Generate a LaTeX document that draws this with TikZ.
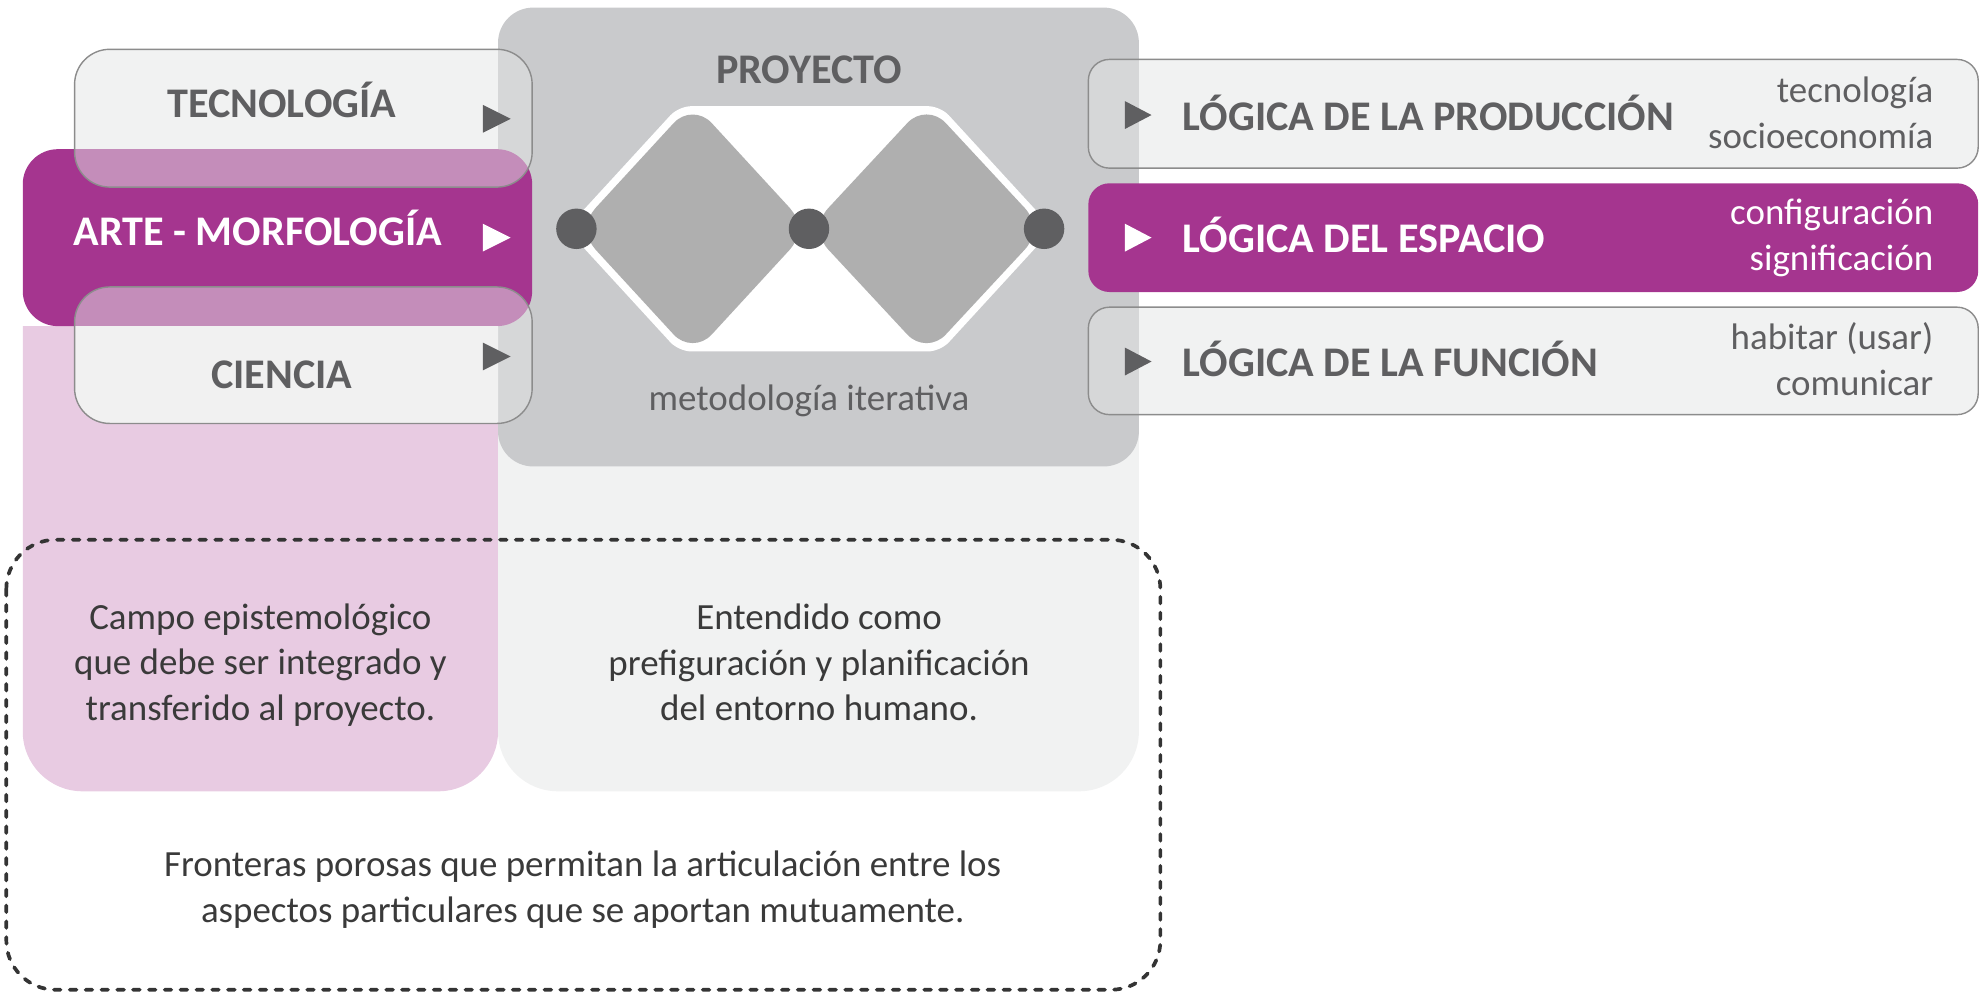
\documentclass[tikz,border=0pt]{standalone}
\usepackage{fontspec}
\setmainfont{Carlito}
\usepackage{tikz}
\usetikzlibrary{positioning}
\usepackage{xcolor}
\definecolor{morado}{HTML}{A5358F}
\definecolor{rosa}{HTML}{E8CBE2}
\definecolor{grisclaro}{HTML}{F1F2F2}
\definecolor{gristapa}{HTML}{E4E5E5}
\definecolor{grismedio}{HTML}{C9CACC}
\definecolor{grisrombo}{HTML}{AFAFAF}
\definecolor{grisoscuro}{HTML}{5F5F61}
\definecolor{borde}{HTML}{8C8C8C}
\definecolor{texto}{HTML}{3A3A3A}
\tikzset{
  titulo/.style={font=\bfseries\fontsize{12}{14}\selectfont, text=grisoscuro, inner sep=0pt},
  subtitulo/.style={font=\fontsize{10.5}{13}\selectfont, text=grisoscuro, inner sep=0pt},
  cuerpo/.style={font=\fontsize{10.5}{13}\selectfont, text=texto, inner sep=0pt, align=center},
  velo/.style={draw=borde, line width=0.4pt, fill=gristapa, fill opacity=0.5},
  punto/.style={circle, fill=grisoscuro, minimum size=11.5pt, inner sep=0pt},
}

\begin{document}
\begin{tikzpicture}[x=0.01264cm, y=-0.01264cm]
  \useasboundingbox (0,0) rectangle (1568,785);

  % columnas de fondo
  \fill[rosa] (18,258) [rounded corners=17pt] -- (18,626) -- (394,626)
    -- (394,258) [sharp corners] -- cycle;
  \fill[grisclaro, rounded corners=17pt] (394,150) rectangle (901,626);
  \fill[grismedio, rounded corners=10pt] (394,6) rectangle (901,369);

  % rombos
  \fill[white, rounded corners=3.5pt] (448,181) -- (537,84) -- (744,84)
    -- (833,181) -- (744,278) -- (537,278) -- cycle;
  \fill[grisrombo, rounded corners=8pt]
    (456,181) -- (548,81) -- (640,181) -- (548,281) -- cycle;
  \fill[grisrombo, rounded corners=8pt]
    (640,181) -- (733,81) -- (826,181) -- (733,281) -- cycle;

  \node[punto] (p1) at (456,181) {};
  \node[punto] (p2) at (640,181) {};
  \node[punto] (p3) at (826,181) {};

  \node[titulo, anchor=base] (proyecto) at (640,66) {PROYECTO};
  \node[subtitulo, anchor=base] (metodo) at (640,325) {metodología iterativa};

  % cajas izquierda
  \fill[morado, rounded corners=10pt] (18,118) rectangle (421,258);
  \begin{scope}
    \clip (0,258) rectangle (394,400);
    \fill[white, rounded corners=10pt] (59,227) rectangle (421,335);
  \end{scope}
  \draw[velo, rounded corners=10pt] (59,39) rectangle (421,148);
  \draw[velo, rounded corners=10pt] (59,227) rectangle (421,335);

  \fill[grisoscuro] (382,83) -- (404,94) -- (382,105) -- cycle;
  \fill[white] (382,177) -- (404,188) -- (382,199) -- cycle;
  \fill[grisoscuro] (382,271) -- (404,282) -- (382,293) -- cycle;

  \node[titulo, anchor=base] (tecno) at (223,93) {TECNOLOGÍA};
  \node[titulo, text=white, anchor=base] (arte) at (204,194) {ARTE - MORFOLOGÍA};
  \node[titulo, anchor=base] (ciencia) at (223,307) {CIENCIA};

  % cajas derecha
  \draw[velo, rounded corners=6pt] (861,47) rectangle (1565,133);
  \fill[morado, rounded corners=6pt] (861,145) rectangle (1565,231);
  \draw[velo, rounded corners=6pt] (861,243) rectangle (1565,328);

  \fill[grisoscuro] (890,80) -- (911,91) -- (890,102) -- cycle;
  \fill[white] (890,177) -- (911,188) -- (890,199) -- cycle;
  \fill[grisoscuro] (890,275) -- (911,286) -- (890,297) -- cycle;

  \node[titulo, anchor=base west] (prod) at (935,103) {LÓGICA DE LA PRODUCCIÓN};
  \node[titulo, text=white, anchor=base west] (espacio) at (935,200) {LÓGICA DEL ESPACIO};
  \node[titulo, anchor=base west] (funcion) at (935,298) {LÓGICA DE LA FUNCIÓN};

  \node[subtitulo, align=right, anchor=east] (prodtxt) at (1530,89)
    {tecnología\\socioeconomía};
  \node[subtitulo, text=white, align=right, anchor=east] (espaciotxt) at (1530,188)
    {configuración\\significación};
  \node[subtitulo, align=right, anchor=east] (funciontxt) at (1530,284)
    {habitar (usar)\\comunicar};

  % textos de abajo
  \node[cuerpo] (campo) at (206,526)
    {Campo epistemológico\\que debe ser integrado y\\transferido al proyecto.};
  \node[cuerpo] (entendido) at (648,524)
    {Entendido como\\prefiguración y planificación\\del entorno humano.};

  \draw[texto!90!black, line width=1.05pt, line cap=round, dash pattern=on 1.9pt off 2.6pt,
    rounded corners=14pt] (5,427) rectangle (918,783);
  \node[cuerpo] (fronteras) at (461,704)
    {Fronteras porosas que permitan la articulación entre los\\aspectos particulares que se aportan mutuamente.};

\end{tikzpicture}
\end{document}
